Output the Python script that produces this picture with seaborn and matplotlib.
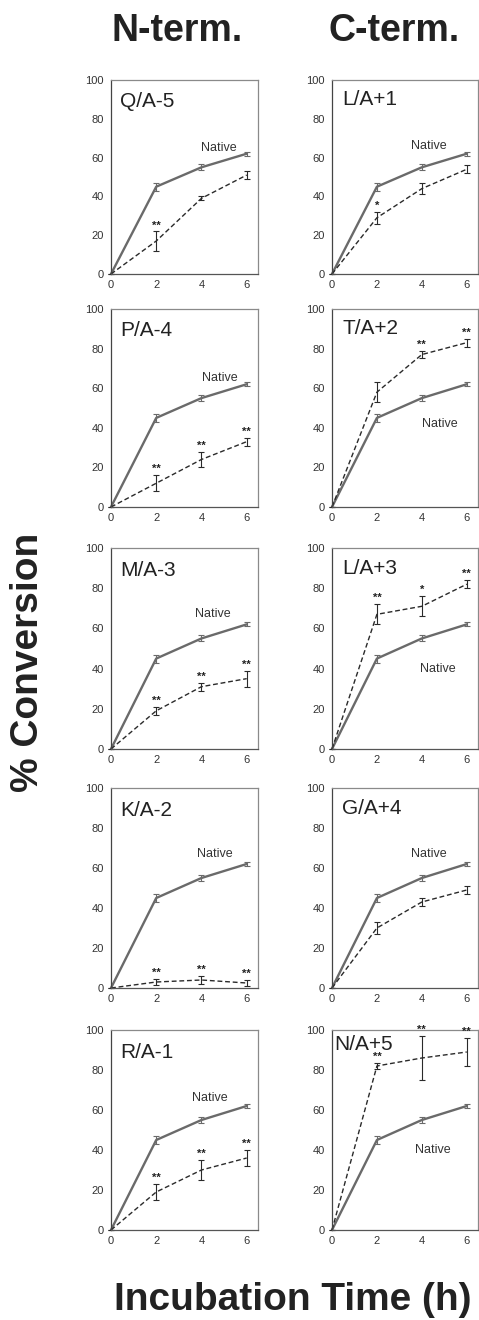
import numpy as np
import pandas as pd
import matplotlib
matplotlib.use("Agg")
import matplotlib.pyplot as plt
import seaborn as sns

# ---------------- data ----------------
times = [0, 2, 4, 6]
native = [0, 45, 55, 62]
native_err = [0, 2.0, 1.5, 1.0]

panel_names = ["Q/A-5", "L/A+1", "P/A-4", "T/A+2", "M/A-3",
               "L/A+3", "K/A-2", "G/A+4", "R/A-1", "N/A+5"]

mut_q_a5 = [0, 17, 39, 51]
mut_l_a1 = [0, 29, 44, 54]
mut_p_a4 = [0, 12, 24, 33]
mut_t_a2 = [0, 58, 77, 83]
mut_m_a3 = [0, 19, 31, 35]
mut_l_a3 = [0, 67, 71, 82]
mut_k_a2 = [0, 3, 4, 2.5]
mut_g_a4 = [0, 30, 43, 49]
mut_r_a1 = [0, 19, 30, 36]
mut_n_a5 = [0, 82, 86, 89]

err_q_a5 = [0, 5, 1, 2]
err_l_a1 = [0, 3, 3, 2]
err_p_a4 = [0, 4, 4, 2]
err_t_a2 = [0, 5, 2, 2]
err_m_a3 = [0, 2, 2, 4]
err_l_a3 = [0, 5, 5, 2]
err_k_a2 = [0, 1.5, 2, 1.5]
err_g_a4 = [0, 3, 2, 2]
err_r_a1 = [0, 4, 5, 4]
err_n_a5 = [0, 1.5, 11, 7]

sig_q_a5 = ["", "**", "", ""]
sig_l_a1 = ["", "*", "", ""]
sig_p_a4 = ["", "**", "**", "**"]
sig_t_a2 = ["", "", "**", "**"]
sig_m_a3 = ["", "**", "**", "**"]
sig_l_a3 = ["", "**", "*", "**"]
sig_k_a2 = ["", "**", "**", "**"]
sig_g_a4 = ["", "", "", ""]
sig_r_a1 = ["", "**", "**", "**"]
sig_n_a5 = ["", "**", "**", "**"]

mutants = [mut_q_a5, mut_l_a1, mut_p_a4, mut_t_a2, mut_m_a3,
           mut_l_a3, mut_k_a2, mut_g_a4, mut_r_a1, mut_n_a5]
errors = [err_q_a5, err_l_a1, err_p_a4, err_t_a2, err_m_a3,
          err_l_a3, err_k_a2, err_g_a4, err_r_a1, err_n_a5]
sigs = [sig_q_a5, sig_l_a1, sig_p_a4, sig_t_a2, sig_m_a3,
        sig_l_a3, sig_k_a2, sig_g_a4, sig_r_a1, sig_n_a5]

# ---------------- layout (pixels of a 479x1320 canvas) ----------------
W, H = 479, 1320
row_top = [80, 309, 548, 788, 1030]
row_bot = [274, 507, 749, 988, 1230]
col_x = [(111, 258), (332, 478)]
native_label_pos = [(4.75, 65), (4.3, 66), (4.8, 65), (4.8, 42), (4.5, 67),
                    (4.7, 40), (4.6, 67), (4.3, 67), (4.35, 66), (4.5, 40)]
panel_label_pos = [(0.4, 89), (0.45, 90), (0.4, 89), (0.45, 90), (0.4, 89),
                   (0.45, 90), (0.4, 89), (0.45, 90), (0.4, 89), (0.1, 92.5)]

sns.set_style("white")
plt.rcParams["font.family"] = ["Liberation Sans", "DejaVu Sans"]

fig = plt.figure(figsize=(W / 100, H / 100), dpi=100)

native_color = "#6a6a6a"
mut_color = "#2a2a2a"
frame_color = "#8a8a8a"

for i, name in enumerate(panel_names):
    r, c = divmod(i, 2)
    x0, x1 = col_x[c]
    t, b = row_top[r], row_bot[r]
    ax = fig.add_axes([x0 / W, 1 - b / H, (x1 - x0) / W, (b - t) / H])

    df_nat = pd.DataFrame({"time": times, "value": native})
    df_mut = pd.DataFrame({"time": times, "value": mutants[i]})

    sns.lineplot(data=df_nat, x="time", y="value", ax=ax, color=native_color,
                 linewidth=1.7, errorbar=None, clip_on=False)
    sns.lineplot(data=df_mut, x="time", y="value", ax=ax, color=mut_color,
                 linewidth=1.0, linestyle=(0, (3.5, 2)), errorbar=None,
                 clip_on=False)
    ax.errorbar(times, native, yerr=native_err, fmt="none", ecolor=native_color,
                elinewidth=0.8, capsize=2, capthick=0.8)
    ax.errorbar(times, mutants[i], yerr=errors[i], fmt="none", ecolor=mut_color,
                elinewidth=0.8, capsize=2, capthick=0.8, clip_on=False)

    for tx, v, e, s in zip(times, mutants[i], errors[i], sigs[i]):
        if s:
            ax.text(tx, v + e + 0.5, s, ha="center", va="bottom",
                    fontsize=8, fontweight="bold", color="#222222")

    lx, ly = native_label_pos[i]
    ax.text(lx, ly, "Native", ha="center", va="center", fontsize=9,
            color="#333333")
    px, py = panel_label_pos[i]
    ax.text(px, py, name, ha="left", va="center", fontsize=15,
            color="#222222")

    ax.set_xlim(0, 6.5)
    ax.set_ylim(0, 100)
    ax.set_xticks([0, 2, 4, 6])
    ax.set_yticks([0, 20, 40, 60, 80, 100])
    ax.set_xlabel("")
    ax.set_ylabel("")
    ax.tick_params(direction="in", length=3, width=0.8, colors=frame_color,
                   labelcolor="#333333", labelsize=8)
    ax.tick_params(axis="x", pad=4)
    ax.tick_params(axis="y", pad=5)
    for sp in ax.spines.values():
        sp.set_visible(True)
        sp.set_color(frame_color)
        sp.set_linewidth(0.9)
    ax.spines["left"].set_color("#444444")
    ax.spines["bottom"].set_color("#555555")

fig.text(177 / W, 1 - 31 / H, "N-term.", ha="center", va="center",
         fontsize=27, fontweight="bold", color="#222222")
fig.text(394 / W, 1 - 31 / H, "C-term.", ha="center", va="center",
         fontsize=27, fontweight="bold", color="#222222")
fig.text(28 / W, 1 - 662 / H, "% Conversion", ha="center", va="center",
         rotation=90, fontsize=28, fontweight="bold", color="#222222")
fig.text(293 / W, 1 - 1300 / H, "Incubation Time (h)", ha="center",
         va="center", fontsize=28, fontweight="bold", color="#222222")

fig.savefig("out.png", dpi=100, facecolor="white")
